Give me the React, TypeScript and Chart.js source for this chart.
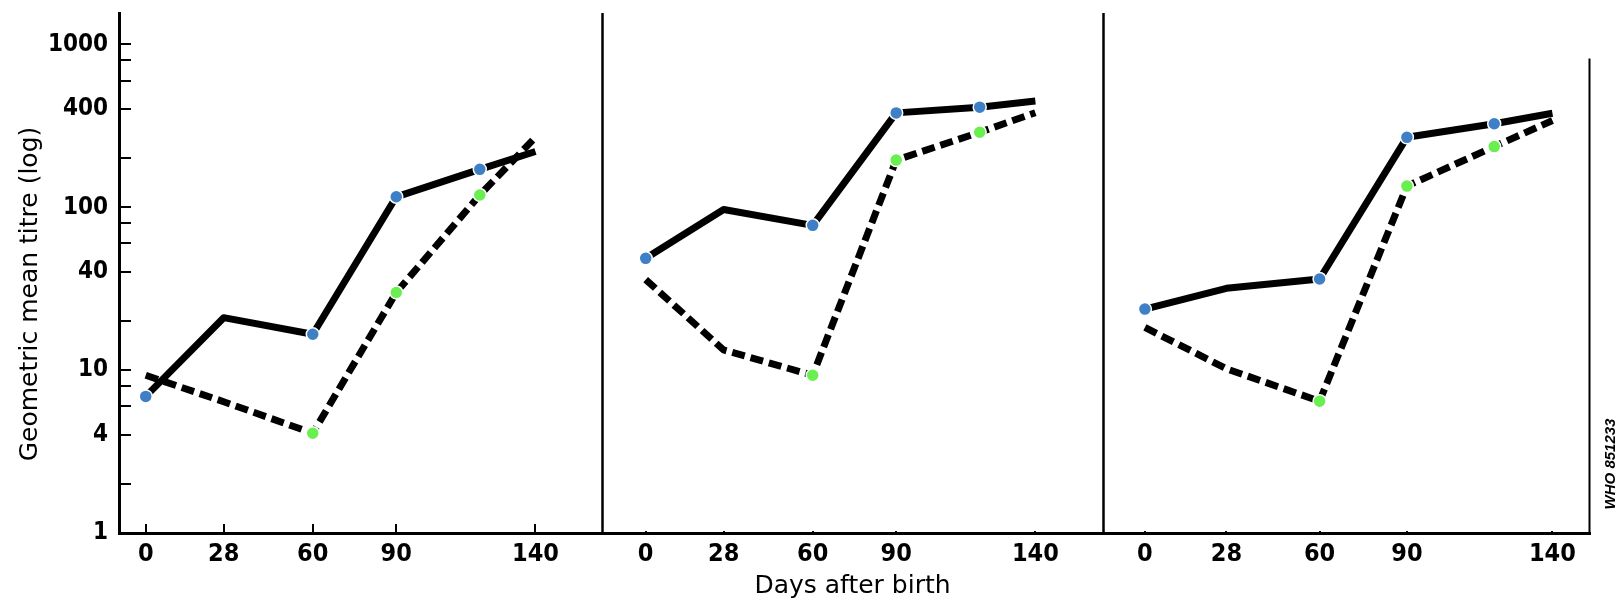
import React, { useEffect, useRef } from 'react';
import { Chart, registerables } from 'chart.js';

Chart.register(...registerables);

// ---- data ----
const days = [0, 28, 60, 90, 120, 140];
const xTickValues = [0, 28, 60, 90, 140];
const yTickValues = [1, 2, 4, 6, 8, 10, 20, 40, 60, 80, 100, 200, 400, 600, 800, 1000];
const yLabelledValues = [1, 4, 10, 40, 100, 400, 1000];

const panel1Solid = [6.9, 21, 16.6, 116, 171, 220];
const panel1Dashed = [9.3, 6.4, 4.1, 30, 119, 269];
const panel2Solid = [48.6, 97, 77.5, 380, 412, 450];
const panel2Dashed = [36, 13.3, 9.3, 195, 289, 381];
const panel3Solid = [23.7, 31.8, 36.3, 269, 326, 378];
const panel3Dashed = [18.3, 10.2, 6.45, 135, 236, 341];

const solidMarkerRadius = [6.5, 0, 6.5, 6.5, 6.5, 0];
const dashedMarkerRadius = [0, 0, 6.5, 6.5, 6.5, 0];

const xAxisTitle = 'Days after birth';
const yAxisTitle = 'Geometric mean titre (log)';
const figureCode = 'WHO 851233';

const BLUE = '#3f7fc6';
const GREEN = '#69ef4f';
const NARROW = "'Liberation Sans Narrow', 'DejaVu Sans Condensed', 'Arial Narrow', sans-serif";

export default function App() {
  const ref = useRef<HTMLCanvasElement>(null);

  useEffect(() => {
    const canvas = ref.current;
    if (!canvas) return;

    const mkLine = (values: number[], panel: number, dashed: boolean) => ({
      data: days.map((d, i) => ({ x: d, y: values[i] })),
      xAxisID: 'x' + panel,
      yAxisID: 'y',
      borderColor: '#000',
      borderWidth: 7,
      borderDash: dashed ? [13, 6] : [],
      borderCapStyle: 'butt',
      borderJoinStyle: 'round',
      pointRadius: dashed ? dashedMarkerRadius : solidMarkerRadius,
      pointBackgroundColor: dashed ? GREEN : BLUE,
      pointBorderColor: '#ffffff',
      pointBorderWidth: 1.5,
      tension: 0,
      fill: false,
    });

    const mkX = (min: number, max: number, weight: number, tl: number, pad: number, withTitle: boolean) => ({
      type: 'linear',
      position: 'bottom',
      stack: 'days',
      stackWeight: weight,
      min,
      max,
      afterBuildTicks: (s: any) => {
        s.ticks = xTickValues.map((v) => ({ value: v }));
      },
      afterFit: (s: any) => {
        s.height = 72;
        s.paddingLeft = 0;
        s.paddingRight = 0;
        s.paddingTop = 0;
        s.paddingBottom = 0;
      },
      ticks: {
        autoSkip: false,
        maxRotation: 0,
        color: '#000',
        padding: pad,
        font: { family: NARROW, size: 25, weight: 'bold' },
        callback: (v: any) => String(v),
      },
      grid: {
        drawOnChartArea: false,
        drawTicks: true,
        tickLength: tl,
        color: '#000',
        lineWidth: 2,
      },
      border: { display: true, color: '#000', width: 3 },
      title: {
        display: withTitle,
        text: xAxisTitle,
        color: '#000',
        font: { family: "'DejaVu Sans', sans-serif", size: 25 },
        padding: { top: 0, bottom: 4 },
      },
    });

    const decor = {
      id: 'decor',
      afterDraw(chart: any) {
        const { ctx, chartArea, scales } = chart;
        ctx.save();
        ctx.strokeStyle = '#000';
        ctx.lineWidth = 2.5;
        ['x2', 'x3'].forEach((id) => {
          const x = Math.round(scales[id].left) + 0.5;
          ctx.beginPath();
          ctx.moveTo(x, chartArea.top);
          ctx.lineTo(x, chartArea.bottom);
          ctx.stroke();
        });
        const xr = Math.round(scales.x3.right) - 0.5;
        ctx.lineWidth = 2;
        ctx.beginPath();
        ctx.moveTo(xr, scales.y.getPixelForValue(1000) + 14);
        ctx.lineTo(xr, chartArea.bottom);
        ctx.stroke();

        ctx.fillStyle = '#000';
        ctx.save();
        ctx.translate(30, 294);
        ctx.rotate(-Math.PI / 2);
        ctx.font = "25px 'DejaVu Sans', sans-serif";
        ctx.textAlign = 'center';
        ctx.textBaseline = 'middle';
        ctx.fillText(yAxisTitle, 0, 0);
        ctx.restore();

        ctx.save();
        ctx.translate(1611, 464);
        ctx.rotate(-Math.PI / 2);
        ctx.font = "italic bold 15px 'Liberation Sans', sans-serif";
        ctx.textAlign = 'center';
        ctx.textBaseline = 'middle';
        ctx.fillText(figureCode, 0, 0);
        ctx.restore();
        ctx.restore();
      },
    };

    const chart = new Chart(canvas, {
      type: 'line',
      data: {
        datasets: [
          mkLine(panel1Solid, 1, false),
          mkLine(panel1Dashed, 1, true),
          mkLine(panel2Solid, 2, false),
          mkLine(panel2Dashed, 2, true),
          mkLine(panel3Solid, 3, false),
          mkLine(panel3Dashed, 3, true),
        ] as any,
      },
      options: {
        animation: false,
        responsive: false,
        maintainAspectRatio: false,
        layout: { padding: { left: 0, right: 33, top: 13, bottom: 0 } },
        plugins: {
          legend: { display: false },
          tooltip: { enabled: false },
          title: { display: false },
        },
        scales: {
          x1: mkX(-9.6, 163.9, 483, -9, 15, false),
          x2: mkX(-15.7, 164.3, 501, -2, 8, true),
          x3: mkX(-14.4, 152.9, 487, -2, 8, false),
          y: {
            type: 'logarithmic',
            position: 'left',
            min: 1,
            max: 1560,
            afterBuildTicks: (s: any) => {
              s.ticks = yTickValues.map((v) => ({ value: v }));
            },
            afterFit: (s: any) => {
              s.width = 119;
              s.paddingTop = 0;
              s.paddingBottom = 0;
              s.paddingLeft = 0;
              s.paddingRight = 0;
            },
            ticks: {
              autoSkip: false,
              color: '#000',
              padding: 23,
              font: { family: NARROW, size: 24, weight: 'bold' },
              callback: (v: any) => (yLabelledValues.includes(Number(v)) ? String(v) : ''),
            },
            grid: {
              drawOnChartArea: false,
              drawTicks: true,
              tickLength: -12,
              color: '#000',
              lineWidth: 2,
            },
            border: { display: true, color: '#000', width: 3 },
          },
        } as any,
      },
      plugins: [decor],
    });

    return () => chart.destroy();
  }, []);

  return (
    <div style={{ position: 'fixed', left: 0, top: 0, width: 1623, height: 605, background: '#fff' }}>
      <canvas ref={ref} width={1623} height={605} style={{ width: 1623, height: 605, display: 'block' }} />
    </div>
  );
}
